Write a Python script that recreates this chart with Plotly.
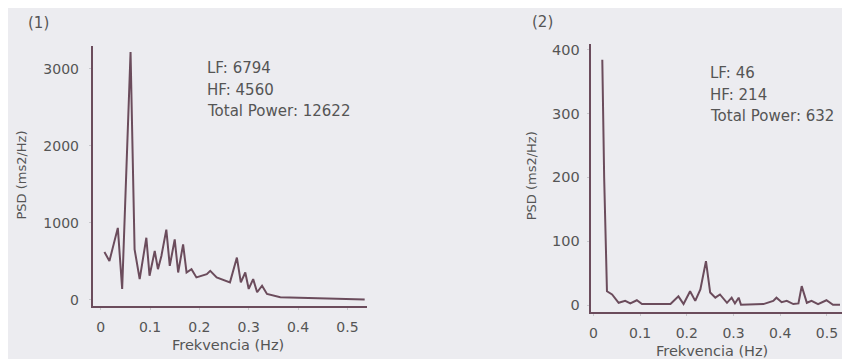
import plotly.graph_objects as go

# Chart (1) data
freq1 = [0.0075, 0.0177, 0.0347, 0.0435, 0.0605, 0.0687, 0.079, 0.0925, 0.099, 0.1095,
         0.116, 0.123, 0.133, 0.140, 0.150, 0.157, 0.167, 0.174, 0.184, 0.194,
         0.215, 0.222, 0.235, 0.262, 0.276, 0.284, 0.293, 0.300, 0.309, 0.317,
         0.327, 0.337, 0.364, 0.535]
psd1 = [622, 506, 935, 142, 3217, 656, 270, 807, 313, 635,
        399, 570, 913, 441, 785, 356, 720, 356, 399, 292,
        334, 377, 292, 228, 549, 228, 356, 142, 270, 99,
        184, 77, 35, 5]

# Chart (2) data
freq2 = [0.019, 0.023, 0.029, 0.040, 0.054, 0.068, 0.079, 0.093, 0.104, 0.165,
         0.182, 0.193, 0.207, 0.218, 0.229, 0.241, 0.250, 0.261, 0.271, 0.286,
         0.296, 0.303, 0.311, 0.316, 0.364, 0.385, 0.392, 0.403, 0.414, 0.428,
         0.439, 0.446, 0.457, 0.467, 0.481, 0.499, 0.513, 0.528]
psd2 = [384, 200, 22, 17, 4, 7, 3, 8, 2, 2,
        14, 2, 22, 7, 25, 69, 20, 12, 17, 4,
        12, 3, 12, 1, 2, 7, 12, 5, 7, 2,
        3, 30, 4, 7, 2, 8, 1, 1]

x_ticks = [0, 0.1, 0.2, 0.3, 0.4, 0.5]
x_tick_text = ["0", "0.1", "0.2", "0.3", "0.4", "0.5"]
y1_ticks = [0, 1000, 2000, 3000]
y2_ticks = [0, 100, 200, 300, 400]

panel_labels = ["(1)", "(2)"]
info1 = ["LF: 6794", "HF: 4560", "Total Power: 12622"]
info2 = ["LF: 46", "HF: 214", "Total Power: 632"]
x_title = "Frekvencia (Hz)"
y_title = "PSD (ms2/Hz)"

LINE = "#6b4c5c"
TEXT = "#555555"
BG = "#ececf0"
FONT = "DejaVu Sans"
OFF = 8          # page body margin
W, H = 842, 351


def px(x):
    return (x - OFF) / W


def py(y):
    return 1 - (y - OFF) / H


fig = go.Figure()
fig.add_trace(go.Scatter(x=freq1, y=psd1, mode="lines", line=dict(color=LINE, width=2),
                         xaxis="x", yaxis="y", showlegend=False))
fig.add_trace(go.Scatter(x=freq2, y=psd2, mode="lines", line=dict(color=LINE, width=2),
                         xaxis="x2", yaxis="y2", showlegend=False))


def axis_common(size):
    return dict(showline=True, linecolor=LINE, linewidth=2, showgrid=False, zeroline=False,
                ticks="outside", ticklen=2, tickcolor="#c8c8cc",
                tickfont=dict(family=FONT, size=size, color=TEXT))


fig.update_layout(
    width=W, height=H,
    margin=dict(l=0, r=0, t=0, b=0),
    paper_bgcolor=BG, plot_bgcolor=BG,
    xaxis=dict(domain=[px(91), px(366)], range=[-0.016, 0.540], tickvals=x_ticks,
               ticktext=x_tick_text, anchor="y", ticklabelstandoff=5, **axis_common(14)),
    yaxis=dict(domain=[py(307), py(44)], range=[-85, 3300], tickvals=y1_ticks,
               anchor="x", ticklabelstandoff=7, **axis_common(14)),
    xaxis2=dict(domain=[px(590), px(847)], range=[-0.006, 0.543], tickvals=x_ticks,
                ticktext=x_tick_text, anchor="y2", ticklabelstandoff=5, **axis_common(14)),
    yaxis2=dict(domain=[py(313), py(42)], range=[-11, 409], tickvals=y2_ticks,
                anchor="x2", ticklabelstandoff=4, **axis_common(14.5)),
)


def ann(text, x, y, size=15, xanchor="left", angle=0):
    fig.add_annotation(text=text, x=px(x), y=py(y), xref="paper", yref="paper",
                       showarrow=False, xanchor=xanchor, yanchor="middle", textangle=angle,
                       font=dict(family=FONT, size=size, color=TEXT))


ann(panel_labels[0], 24, 21)
ann(panel_labels[1], 529, 20)
for i, t in enumerate(info1):
    ann(t, 203, 67 + i * 21.5)
for i, t in enumerate(info2):
    ann(t, 708, 72 + i * 21.5)
ann(x_title, 227, 346, size=14.5, xanchor="center")
ann(x_title, 712, 352, size=14.5, xanchor="center")
ann(y_title, 20, 174, size=13, xanchor="center", angle=-90)
ann(y_title, 531, 175, size=13, xanchor="center", angle=-90)

fig.write_html("out.html")
